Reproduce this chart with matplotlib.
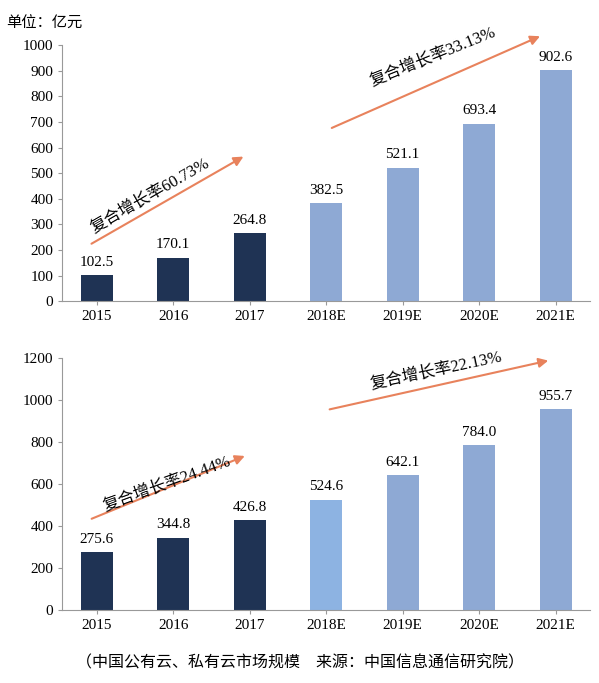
import matplotlib
matplotlib.use('Agg')
import matplotlib.pyplot as plt

plt.rcParams['font.family'] = ['Liberation Serif', 'Noto Sans CJK SC']
cats = ['2015', '2016', '2017', '2018E', '2019E', '2020E', '2021E']
public = [102.5, 170.1, 264.8, 382.5, 521.1, 693.4, 902.6]
private = [275.6, 344.8, 426.8, 524.6, 642.1, 784.0, 955.7]
dark = '#1f3354'
light = '#8ea9d4'
lighter = '#8db3e2'
arrowc = '#e8825c'

fig = plt.figure(figsize=(5.99, 6.83), dpi=100)
ax1 = fig.add_axes([0.104, 0.559, 0.881, 0.375])
ax2 = fig.add_axes([0.104, 0.107, 0.881, 0.369])

def draw(ax, vals, cols, ymax, step, arrows, texts):
    x = range(len(cats))
    ax.bar(x, vals, width=0.42, color=cols)
    for i, v in enumerate(vals):
        ax.text(i, v + ymax*0.025, f'{v:.1f}', ha='center', va='bottom', fontsize=11)
    ax.set_xlim(-0.45, len(cats)-0.55)
    ax.set_ylim(0, ymax)
    ax.set_yticks(range(0, ymax+1, step))
    ax.set_xticks(list(x))
    ax.set_xticklabels(cats)
    ax.tick_params(labelsize=11, length=3, color='#999999')
    for s in ['top', 'right']:
        ax.spines[s].set_visible(False)
    for s in ['left', 'bottom']:
        ax.spines[s].set_color('#999999')
    for (x0, y0, x1, y1) in arrows:
        ax.annotate('', xy=(x1, y1), xytext=(x0, y0), annotation_clip=False,
                    arrowprops=dict(arrowstyle='-|>', color=arrowc, lw=1.5, mutation_scale=14))
    for (tx, ty, t, r) in texts:
        ax.text(tx, ty, t, ha='center', va='center', rotation=r, fontsize=12)

draw(ax1, public, [dark]*3 + [light]*4, 1000, 100,
     [(-0.1, 219, 1.95, 570), (3.04, 672, 5.83, 1039)],
     [(0.7, 414, '复合增长率60.73%', 30), (4.4, 955, '复合增长率33.13%', 22)])
draw(ax2, private, [dark]*3 + [lighter] + [light]*3, 1200, 200,
     [(-0.1, 429, 1.97, 738), (3.01, 952, 5.94, 1190)],
     [(0.92, 600, '复合增长率24.44%', 20), (4.44, 1140, '复合增长率22.13%', 12)])
fig.text(0.01, 0.965, '单位：亿元', fontsize=11, va='center')
fig.text(0.5, 0.028, '（中国公有云、私有云市场规模    来源：中国信息通信研究院）', fontsize=11.5, ha='center', va='center')
fig.savefig('out.png')
